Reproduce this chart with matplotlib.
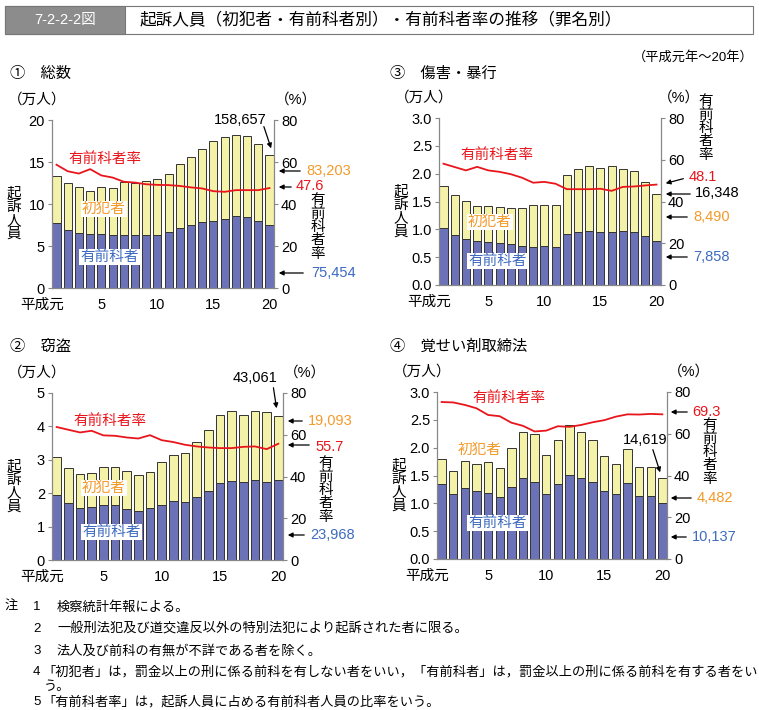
import matplotlib.pyplot as plt
from matplotlib.patches import Rectangle, FancyArrowPatch
from matplotlib.transforms import ScaledTranslation
import numpy as np

plt.rcParams['font.family'] = ['Liberation Sans', 'Noto Sans CJK JP', 'DejaVu Sans']

W, H = 759, 710

years = np.arange(1, 21)
year_ticks = [1, 5, 10, 15, 20]
year_labels = ['平成元', '5', '10', '15', '20']

# ① 総数 (万人 / %)
total_all = [13.32, 12.45, 12.05, 11.49, 12.01, 11.93, 12.64, 12.55, 12.76, 12.92,
             13.60, 14.75, 15.63, 16.50, 17.53, 18.00, 18.25, 18.10, 17.18, 15.87]
prior_all = [7.75, 6.96, 6.60, 6.48, 6.40, 6.32, 6.32, 6.32, 6.32, 6.32,
             6.68, 7.16, 7.50, 7.80, 8.03, 8.23, 8.55, 8.43, 8.00, 7.55]
rate_all = [58.7, 55.6, 54.5, 56.6, 53.6, 52.6, 50.6, 50.2, 49.4, 49.1,
            49.0, 48.6, 47.9, 47.4, 46.1, 45.8, 46.6, 46.6, 46.6, 47.6]

# ② 窃盗
total_theft = [3.08, 2.75, 2.57, 2.59, 2.78, 2.78, 2.65, 2.55, 2.62, 2.92,
               3.14, 3.20, 3.52, 3.90, 4.34, 4.47, 4.33, 4.46, 4.43, 4.31]
prior_theft = [1.95, 1.70, 1.56, 1.58, 1.64, 1.64, 1.53, 1.47, 1.55, 1.66,
               1.76, 1.75, 1.89, 2.08, 2.31, 2.37, 2.33, 2.40, 2.33, 2.40]
rate_theft = [63.7, 62.4, 61.1, 61.9, 59.7, 59.5, 58.7, 58.2, 59.8, 57.4,
              56.5, 55.2, 54.4, 53.9, 53.6, 53.6, 54.2, 54.4, 53.1, 55.7]

# ③ 傷害・暴行
total_assault = [1.78, 1.61, 1.51, 1.42, 1.42, 1.40, 1.39, 1.39, 1.43, 1.44,
                 1.43, 1.98, 2.09, 2.13, 2.11, 2.14, 2.08, 2.05, 1.85, 1.63]
prior_assault = [1.02, 0.90, 0.83, 0.79, 0.77, 0.76, 0.74, 0.70, 0.69, 0.70,
                 0.68, 0.91, 0.95, 0.97, 0.96, 0.96, 0.97, 0.95, 0.88, 0.79]
rate_assault = [58.1, 56.5, 54.9, 56.6, 54.9, 54.2, 53.1, 51.4, 49.0, 49.4,
                48.5, 45.9, 45.9, 45.9, 46.1, 45.1, 47.0, 47.2, 47.7, 48.1]

# ④ 覚せい剤取締法
total_stim = [1.80, 1.58, 1.76, 1.71, 1.74, 1.63, 2.00, 2.29, 2.25, 1.87,
              2.13, 2.41, 2.28, 2.13, 1.85, 1.71, 1.98, 1.66, 1.66, 1.46]
prior_stim = [1.34, 1.17, 1.28, 1.23, 1.19, 1.12, 1.29, 1.46, 1.38, 1.16,
              1.35, 1.51, 1.46, 1.39, 1.23, 1.17, 1.37, 1.14, 1.14, 1.01]
rate_stim = [75.2, 75.0, 73.8, 72.2, 69.0, 68.4, 65.3, 63.8, 61.1, 61.5,
             63.6, 63.3, 64.2, 65.5, 66.5, 68.2, 69.3, 69.2, 69.5, 69.3]

BLUE_BAR = '#6b72b8'
YELLOW_BAR = '#f4f1a8'
RED = '#e8161c'
ORANGE = '#f39a2a'
BLUE_TXT = '#3d6bc0'
GRAY = '#888888'


def fx(x):
    return x / W


def fy(y):
    return 1 - y / H


def draw_panel(fig, box, total, prior, rate, ymax, ystep, fmt):
    x0, y0, x1, y1 = box
    ax = fig.add_axes([fx(x0), fy(y1), (x1 - x0) / W, (y1 - y0) / H])
    first = np.array(total) - np.array(prior)
    ax.bar(years, prior, width=0.72, color=BLUE_BAR, edgecolor='#333333', linewidth=0.7, zorder=2)
    ax.bar(years, first, bottom=prior, width=0.72, color=YELLOW_BAR, edgecolor='#333333',
           linewidth=0.7, zorder=2)
    ax.set_xlim(0.6, 20.4)
    ax.set_ylim(0, ymax)
    yt = np.arange(0, ymax + ystep / 2, ystep)
    ax.set_yticks(yt)
    ax.set_yticklabels([fmt.format(v) for v in yt], fontsize=10.5)
    ax.set_xticks(year_ticks)
    ax.set_xticklabels(year_labels, fontsize=10.5)
    ax.tick_params(axis='x', length=0, pad=7)
    ax.tick_params(axis='y', length=3, width=0.8, color=GRAY, pad=2)
    lab0 = ax.get_xticklabels()[0]
    lab0.set_transform(lab0.get_transform() + ScaledTranslation(-14 / 100, 0, fig.dpi_scale_trans))
    for s in ['top', 'right']:
        ax.spines[s].set_visible(False)
    for s in ['left', 'bottom']:
        ax.spines[s].set_color(GRAY)
        ax.spines[s].set_linewidth(0.9)

    ax2 = ax.twinx()
    ax2.plot(years, rate, color=RED, lw=1.3, zorder=5)
    ax2.set_ylim(0, 80)
    ax2.set_yticks([0, 20, 40, 60, 80])
    ax2.set_yticklabels(['0', '20', '40', '60', '80'], fontsize=10.5)
    ax2.tick_params(axis='y', length=3, width=0.8, color=GRAY, pad=2)
    for s in ['top', 'left', 'bottom']:
        ax2.spines[s].set_visible(False)
    ax2.spines['right'].set_color(GRAY)
    ax2.spines['right'].set_linewidth(0.9)
    return ax, ax2


def ftext(fig, x, y, s, **kw):
    kw.setdefault('fontsize', 10.5)
    kw.setdefault('va', 'center')
    return fig.text(fx(x), fy(y), s, **kw)


def farrow(fig, xa, ya, xb, yb):
    fig.patches.append(FancyArrowPatch(
        (fx(xa), fy(ya)), (fx(xb), fy(yb)), transform=fig.transFigure,
        arrowstyle='-|>', mutation_scale=7, lw=0.9, color='black'))


def stacked(s):
    return '\n'.join(s)


fig = plt.figure(figsize=(W / 100, H / 100), dpi=100)

# header
fig.patches.append(Rectangle((fx(5), fy(34)), fx(748), 28 / H, transform=fig.transFigure,
                             facecolor='white', edgecolor='#777777', lw=0.8))
fig.patches.append(Rectangle((fx(5), fy(34)), fx(120), 28 / H, transform=fig.transFigure,
                             facecolor='#8c8c8c', edgecolor='#777777', lw=0.8))
ftext(fig, 65, 20, '7-2-2-2図', color='white', fontsize=10.5, ha='center')
ftext(fig, 140, 20, '起訴人員（初犯者・有前科者別）・有前科者率の推移（罪名別）', fontsize=12)
ftext(fig, 754, 57, '（平成元年～20年）', fontsize=9.5, ha='right')

panels = [
    ((52, 120, 274, 288), total_all, prior_all, rate_all, 20, 5, '{:.0f}', (10, 74), '①　総数', 1),
    ((439, 118, 661, 285), total_assault, prior_assault, rate_assault, 3.0, 0.5, '{:.1f}', (390, 74), '③　傷害・暴行', -3),
    ((52, 393, 283, 560), total_theft, prior_theft, rate_theft, 5, 1, '{:.0f}', (10, 347), '②　窃盗', 1),
    ((437, 392, 667, 559), total_stim, prior_stim, rate_stim, 3.0, 0.5, '{:.1f}', (390, 347), '④　覚せい剤取締法', 1),
]

axes = []
for box, tot, pri, rat, ymax, ystep, fmt, tpos, title, pct_dx in panels:
    ax, ax2 = draw_panel(fig, box, tot, pri, rat, ymax, ystep, fmt)
    axes.append((ax, ax2))
    ftext(fig, tpos[0], tpos[1], title, fontsize=11)
    ftext(fig, box[0] - 44, box[1] - 20, '（万人）', fontsize=10.5)
    ftext(fig, box[2] + pct_dx, box[1] - 20, '（%）', fontsize=10.5)
    ftext(fig, box[0] - 38, (box[1] + box[3]) / 2 + 10, stacked('起訴人員'), fontsize=10.5,
          ha='center', linespacing=0.95)

# ① 総数
ftext(fig, 68, 159, '有前科者率', color=RED)
ftext(fig, 82, 209, '初犯者', color=ORANGE, bbox=dict(facecolor='white', edgecolor='none', pad=1))
ftext(fig, 80, 257, '有前科者', color=BLUE_TXT, bbox=dict(facecolor='white', edgecolor='none', pad=1))
ftext(fig, 318, 227, stacked('有前科者率'), ha='center', linespacing=0.95)
ftext(fig, 267, 120, '158,657', ha='right')
farrow(fig, 263, 124, 272, 151)
ftext(fig, 306, 171, '83,203', color=ORANGE)
farrow(fig, 303, 171, 276, 171)
ftext(fig, 296, 186, '47.6', color=RED)
farrow(fig, 294, 187, 276, 187)
ftext(fig, 311, 273, '75,454', color=BLUE_TXT)
farrow(fig, 306, 273, 276, 273)

# ③ 傷害・暴行
ftext(fig, 460, 155, '有前科者率', color=RED)
ftext(fig, 468, 222, '初犯者', color=ORANGE, bbox=dict(facecolor='white', edgecolor='none', pad=1))
ftext(fig, 468, 261, '有前科者', color=BLUE_TXT, bbox=dict(facecolor='white', edgecolor='none', pad=1))
ftext(fig, 706, 128, stacked('有前科者率'), ha='center', linespacing=0.95)
ftext(fig, 689, 177, '48.1', color=RED)
farrow(fig, 686, 178, 663, 184)
ftext(fig, 695, 193, '16,348')
farrow(fig, 693, 194, 663, 194)
ftext(fig, 693, 217, '8,490', color=ORANGE)
farrow(fig, 690, 217, 663, 217)
ftext(fig, 693, 257, '7,858', color=BLUE_TXT)
farrow(fig, 690, 257, 663, 257)

# ② 窃盗
ftext(fig, 73, 421, '有前科者率', color=RED)
ftext(fig, 82, 488, '初犯者', color=ORANGE, bbox=dict(facecolor='white', edgecolor='none', pad=1))
ftext(fig, 82, 532, '有前科者', color=BLUE_TXT, bbox=dict(facecolor='white', edgecolor='none', pad=1))
ftext(fig, 326, 490, stacked('有前科者率'), ha='center', linespacing=0.95)
ftext(fig, 277, 378, '43,061', ha='right')
farrow(fig, 273, 385, 277, 411)
ftext(fig, 308, 421, '19,093', color=ORANGE)
farrow(fig, 305, 421, 285, 421)
ftext(fig, 315, 447, '55.7', color=RED)
farrow(fig, 312, 445, 285, 445)
ftext(fig, 310, 535, '23,968', color=BLUE_TXT)
farrow(fig, 307, 535, 285, 535)

# ④ 覚せい剤取締法
ftext(fig, 472, 398, '有前科者率', color=RED)
ftext(fig, 458, 450, '初犯者', color=ORANGE, bbox=dict(facecolor='white', edgecolor='none', pad=1))
ftext(fig, 468, 523, '有前科者', color=BLUE_TXT, bbox=dict(facecolor='white', edgecolor='none', pad=1))
ftext(fig, 710, 452, stacked('有前科者率'), ha='center', linespacing=0.95)
ftext(fig, 692, 412, '69.3', color=RED)
farrow(fig, 690, 412, 668, 412)
ftext(fig, 667, 440, '14,619', ha='right')
farrow(fig, 652, 447, 661, 475)
ftext(fig, 697, 498, '4,482', color=ORANGE)
farrow(fig, 694, 498, 668, 498)
ftext(fig, 692, 537, '10,137', color=BLUE_TXT)
farrow(fig, 689, 537, 668, 537)

# notes
notes = [
    (5, 607, '注'),
    (33, 607, '1'), (57, 607, '検察統計年報による。'),
    (33, 629, '2'), (57, 629, '一般刑法犯及び道交違反以外の特別法犯により起訴された者に限る。'),
    (33, 651, '3'), (57, 651, '法人及び前科の有無が不詳である者を除く。'),
    (33, 672, '4'), (42, 672, '「初犯者」は，罰金以上の刑に係る前科を有しない者をいい，「有前科者」は，罰金以上の刑に係る前科を有する者をい'),
    (44, 687, 'う。'),
    (33, 702, '5'), (42, 702, '「有前科者率」は，起訴人員に占める有前科者人員の比率をいう。'),
]
for x, y, s in notes:
    ftext(fig, x, y, s, fontsize=9.5)

fig.savefig('out.png', dpi=100)
